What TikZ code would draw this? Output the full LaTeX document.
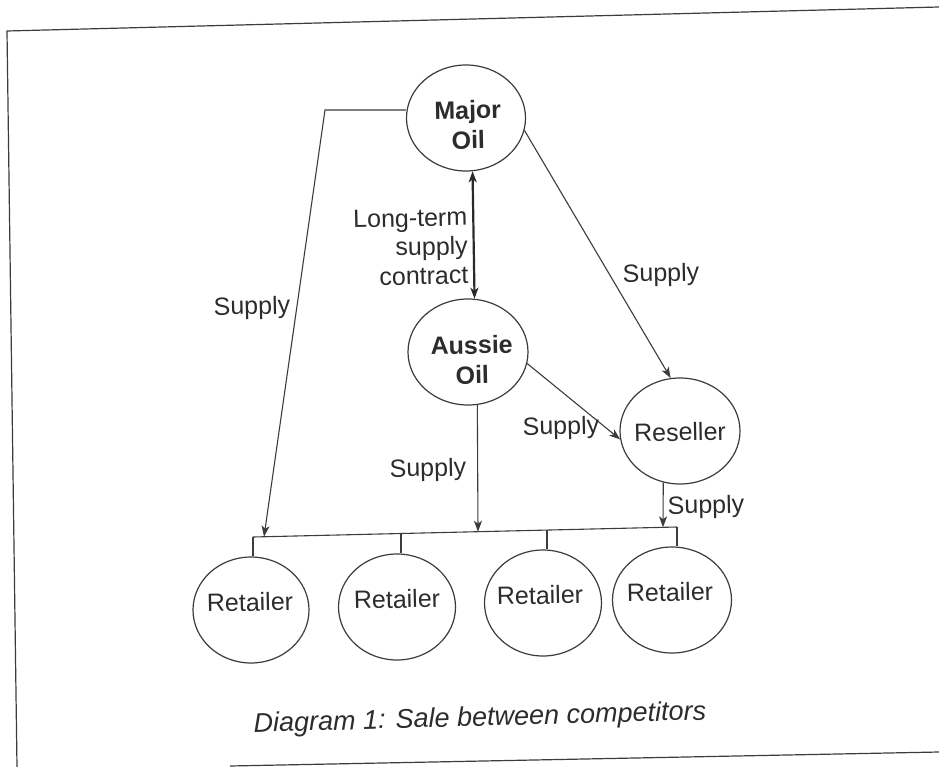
\documentclass[tikz,border=0pt]{standalone}
\usepackage{fontspec}
\setmainfont{Liberation Sans}
\usetikzlibrary{shapes.geometric,arrows.meta,calc}
\definecolor{ink}{HTML}{3C3C3C}
\definecolor{txt}{HTML}{2C2C2C}
\begin{document}
\begin{tikzpicture}[x=1pt,y=-1pt,
  oval/.style={draw=ink, line width=1.2pt, ellipse, inner sep=0pt, minimum height=106pt},
  txtS/.style={text=txt, font=\fontsize{25}{29}\selectfont, rotate=1.2, inner sep=0pt},
  txtB/.style={text=txt, font=\fontsize{25}{30}\selectfont\bfseries, rotate=1.2, inner sep=0pt, align=center},
  conn/.style={draw=ink, line width=1.1pt},
  arr/.style={conn, -{Stealth[length=11pt,width=8pt,inset=3pt]}},
  dbl/.style={draw=ink!70!black, line width=2.2pt, {Stealth[length=11pt,width=8pt,inset=3pt]}-{Stealth[length=11pt,width=8pt,inset=3pt]}},
  frame/.style={draw=ink, line width=1.2pt}]
\useasboundingbox (0,0) rectangle (939,767);
\fill[white] (0,0) rectangle (939,767);

% frame
\coordinate (ftl) at (7,31);
\coordinate (ftr) at (939,7);
\coordinate (fbl) at (17,767);
\coordinate (fbs) at (230,766);
\coordinate (fbr) at (939,752);
\draw[frame] (ftr) -- (ftl) -- (fbl);
\draw[frame] (fbs) -- (fbr);

% ovals
\node[oval, minimum width=119pt] (major) at (466,118) {};
\node[oval, minimum width=120pt] (aussie) at (468,352) {};
\node[oval, minimum width=120pt] (reseller) at (680,431) {};
\node[oval, minimum width=116pt] (r1) at (251,610) {};
\node[oval, minimum width=117pt] (r2) at (397,607) {};
\node[oval, minimum width=117pt] (r3) at (543,603) {};
\node[oval, minimum width=119pt] (r4) at (672,600) {};

% texts in ovals
\node[txtB] (majorT) at (468,125) {Major\\Oil};
\node[txtB] (aussieT) at (472,360) {Aussie\\Oil};
\node[txtS] (resT) at (680,432) {Reseller};
\node[txtS] (r1T) at (250,602) {Retailer};
\node[txtS] (r2T) at (397,599) {Retailer};
\node[txtS] (r3T) at (540,595) {Retailer};
\node[txtS] (r4T) at (670,592) {Retailer};

% bus
\coordinate (b1) at (253,537);
\coordinate (bM) at (264,536.7);
\coordinate (b2) at (401,533.5);
\coordinate (b3) at (478,531.7);
\coordinate (b4) at (547,530);
\coordinate (b5) at (663,527.3);
\coordinate (b6) at (677,527);
\draw[conn] (b1) -- (b6);
\draw[conn] (b1) -- (b1 |- r1.north);
\draw[conn] (b2) -- (b2 |- r2.north);
\draw[conn] (b4) -- (b4 |- r3.north);
\draw[conn] (b6) -- (b6 |- r4.north);

% connectors
\coordinate (corner) at (325,110);
\draw[arr] (major.west |- corner) -- (corner) -- (bM);
\draw[arr] (major.-12) -- (reseller.100);
\draw[dbl] (major.-83) -- (aussie.83);
\draw[arr] (aussie.-11) -- (reseller.188);
\draw[arr] (aussie.-80) -- (b3);
\draw[arr] (reseller.-108) -- (b5);

% labels
\node[txtS] (s1) at (252,308) {Supply};
\node[txtS] (s2) at (661,275) {Supply};
\node[txtS] (s3) at (561,428) {Supply};
\node[txtS] (s4) at (428,470) {Supply};
\node[txtS] (s5) at (706,507) {Supply};
\node[txtS, align=right, anchor=east] (ltc) at (468,246) {Long-term\\supply\\contract};

% caption
\node[text=txt, font=\fontsize{27}{32}\selectfont\itshape, rotate=1.6, inner sep=0pt] (cap) at (480,719) {Diagram 1: Sale between competitors};
\end{tikzpicture}
\end{document}
